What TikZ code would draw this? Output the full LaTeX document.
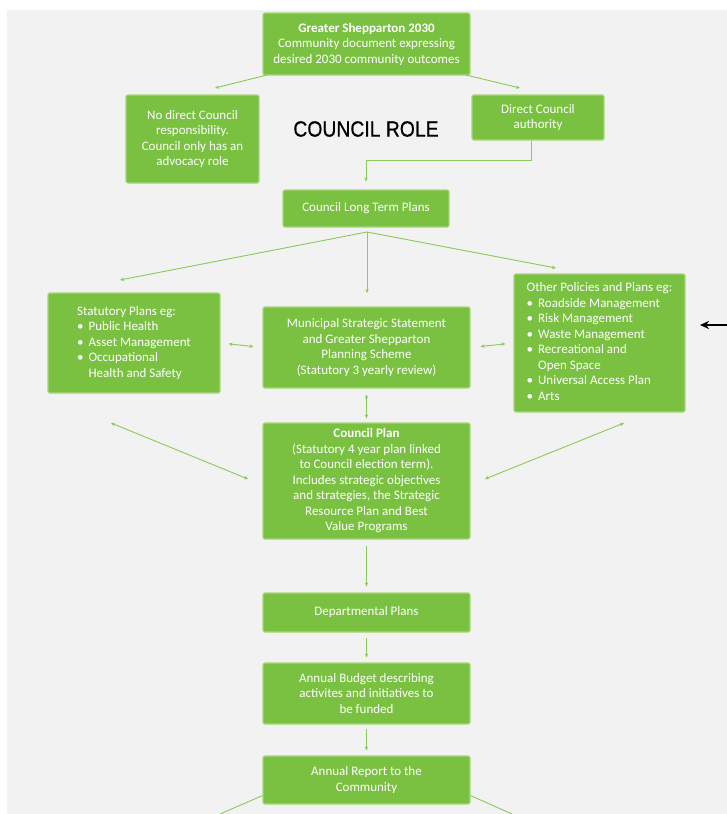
\documentclass[tikz,border=0pt]{standalone}
\usepackage{fontspec}
\setmainfont{Carlito}
\newfontfamily\rolefont[FakeStretch=0.88,FakeBold=0.6]{Liberation Sans}
\usepackage{tikz}
\usetikzlibrary{arrows.meta}
\definecolor{boxgreen}{RGB}{122,193,66}
\definecolor{edgegreen}{RGB}{168,214,122}
\definecolor{linegreen}{RGB}{140,200,90}
\definecolor{bggrey}{RGB}{242,242,242}

\begin{document}
\begin{tikzpicture}[x=1pt, y=-1pt,
	box/.style={draw=edgegreen, line width=1.2pt, fill=boxgreen, rounded corners=2pt, text=white,
		align=center, inner sep=0pt, font=\fontsize{13}{15.5}\selectfont},
	flow/.style={draw=linegreen, line width=0.9pt, -{Stealth[length=4pt,width=3.5pt]}},
	twoway/.style={draw=linegreen, line width=0.9pt, {Stealth[length=4pt,width=3.5pt]}-{Stealth[length=4pt,width=3.5pt]}},
	plain/.style={draw=linegreen, line width=0.9pt}]
				\useasboundingbox (0,0) rectangle (727,814);
				\fill[white] (0,0) rectangle (727,814);
				\fill[bggrey] (7,10) rectangle (727,814);
				\node[box, minimum width=207pt, minimum height=62pt] (vision) at (366.5,44)
					{\textbf{Greater Shepparton 2030}\\Community document expressing\\desired 2030 community outcomes};
				\node[box, minimum width=133pt, minimum height=88pt] (advocacy) at (192.5,139)
					{No direct Council\\responsibility.\\Council only has an\\advocacy role};
				\node[box, minimum width=132pt, minimum height=45pt] (direct) at (538,117.5)
					{Direct Council\\authority};
				\node[font=\rolefont\fontsize{22}{26}\selectfont] (role) at (366,129) {COUNCIL ROLE};
				\node[box, minimum width=166pt, minimum height=37pt] (longterm) at (366,208.5)
					{Council Long Term Plans};
				\node[box, minimum width=172pt, minimum height=100pt, align=left] (statutory) at (134,343)
					{\begin{tabular}{@{}l@{\hspace{5pt}}l@{}}
						\multicolumn{2}{@{}l@{}}{Statutory Plans eg:}\\
						\textbullet & Public Health\\
						\textbullet & Asset Management\\
						\textbullet & Occupational\\
						& Health and Safety
					\end{tabular}};
				\node[box, minimum width=207pt, minimum height=81pt] (mss) at (366.5,347.5)
					{Municipal Strategic Statement\\and Greater Shepparton\\Planning Scheme\\(Statutory 3 yearly review)};
				\node[box, minimum width=171pt, minimum height=138pt, align=left] (other) at (599.5,343)
					{\begin{tabular}{@{}l@{\hspace{5pt}}l@{}}
						\multicolumn{2}{@{}l@{}}{Other Policies and Plans eg:}\\
						\textbullet & Roadside Management\\
						\textbullet & Risk Management\\
						\textbullet & Waste Management\\
						\textbullet & Recreational and\\
						& Open Space\\
						\textbullet & Universal Access Plan\\
						\textbullet & Arts
					\end{tabular}};
				\node[box, minimum width=207pt, minimum height=116pt] (plan) at (366.5,481)
					{\textbf{Council Plan}\\(Statutory 4 year plan linked\\to Council election term).\\Includes strategic objectives\\and strategies, the Strategic\\Resource Plan and Best\\Value Programs};
				\node[box, minimum width=207pt, minimum height=39pt] (dept) at (366.5,612.5)
					{Departmental Plans};
				\node[box, minimum width=207pt, minimum height=61pt] (budget) at (366.5,693.5)
					{Annual Budget describing\\activites and initiatives to\\be funded};
				\node[box, minimum width=207pt, minimum height=48pt] (report) at (366.5,780)
					{Annual Report to the\\Community};
				\coordinate (visionL) at (267,75);
				\coordinate (visionR) at (466,75);
				\coordinate (advocacyTip) at (215,88);
				\coordinate (directTip) at (520,88);
				\coordinate (fan) at (367,232);
				\coordinate (fanL) at (120,280);
				\coordinate (fanC) at (367,293);
				\coordinate (fanR) at (556,268);
				\coordinate (diagL) at (111,423);
				\coordinate (diagLplan) at (248,479);
				\coordinate (diagR) at (624,423);
				\coordinate (diagRplan) at (485,479);
				\coordinate (edge) at (727,325);
				\coordinate (edgeTip) at (700,325);
				\coordinate (outL) at (220,814);
				\coordinate (outR) at (512,814);
				\draw[flow] (visionL) -- (advocacyTip);
				\draw[flow] (visionR) -- (directTip);
				\draw[flow, shorten >=8pt] ([xshift=-7pt]direct.south) -- ++(0,20) -| (longterm.north);
				\foreach \t in {fanL,fanC,fanR}
					\draw[flow] (fan) -- (\t);
				\draw[twoway, shorten <=8pt, shorten >=9pt] (statutory.east) -- (mss.west);
				\draw[twoway, shorten <=10pt, shorten >=8pt] (mss.east) -- (other.west);
				\draw[twoway, shorten <=6pt, shorten >=4pt] (mss.south) -- (plan.north);
				\draw[twoway] (diagL) -- (diagLplan);
				\draw[twoway] (diagR) -- (diagRplan);
				\draw[flow, shorten <=6pt, shorten >=6pt] (plan.south) -- (dept.north);
				\draw[flow, shorten <=5pt, shorten >=5pt] (dept.south) -- (budget.north);
				\draw[flow, shorten <=4pt, shorten >=5pt] (budget.south) -- (report.north);
				\draw[plain] ([yshift=9pt]report.south west) -- (outL);
				\draw[plain] ([yshift=9pt]report.south east) -- (outR);
				\draw[line width=1.6pt, -{Stealth[length=9pt,width=8pt]}] (edge) -- (edgeTip);
			\end{tikzpicture}
\end{document}
